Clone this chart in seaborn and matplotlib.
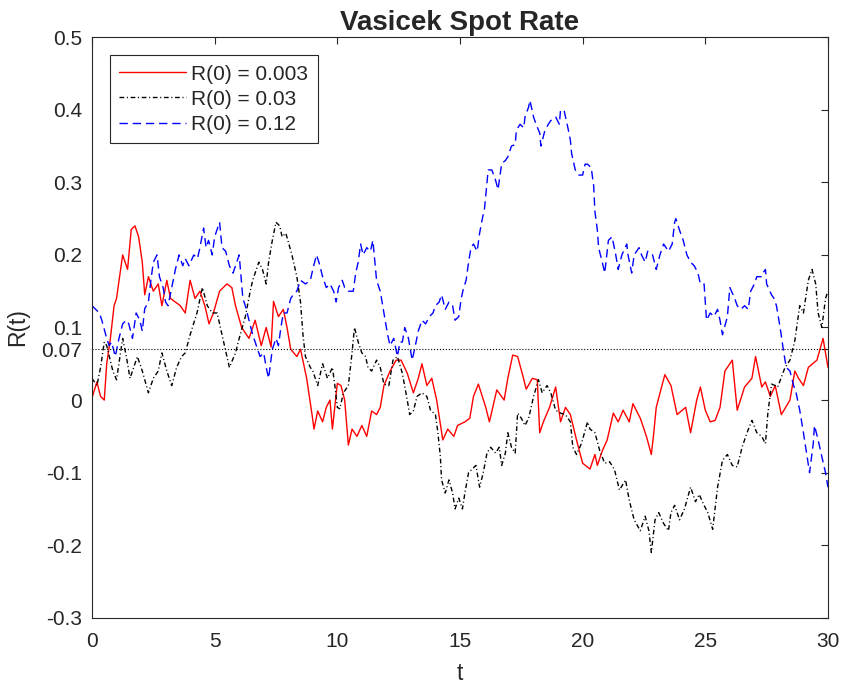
import matplotlib
matplotlib.use("Agg")
import matplotlib.pyplot as plt
import seaborn as sns
import pandas as pd

# ---------------- data ----------------
t_red = [0, 0.2, 0.35, 0.5, 0.6, 0.75, 0.9, 1.0, 1.25, 1.45, 1.6, 1.75, 1.9, 2.05, 2.15, 2.3, 2.5, 2.7,
         2.85, 3.05, 3.2, 3.4, 3.6, 3.8, 4.0, 4.2, 4.4, 4.6, 4.77, 4.95, 5.2, 5.5, 5.7, 5.85, 6.1, 6.4,
         6.65, 6.9, 7.1, 7.3, 7.4, 7.6, 7.8, 7.95, 8.1, 8.35, 8.5, 8.75, 8.97, 9.05, 9.2, 9.4, 9.55,
         9.7, 9.8, 10.0, 10.15, 10.3, 10.45, 10.6, 10.8, 11.0, 11.2, 11.4, 11.6, 11.75, 11.9, 12.15,
         12.4, 12.6, 12.85, 13.1, 13.3, 13.45, 13.65, 13.85, 14.05, 14.3, 14.5, 14.75, 14.9, 15.2,
         15.4, 15.55, 15.75, 16.05, 16.2, 16.5, 16.8, 16.95, 17.15, 17.35, 17.55, 17.7, 17.95, 18.15,
         18.25, 18.4, 18.65, 18.9, 19.1, 19.3, 19.5, 19.75, 20.0, 20.3, 20.5, 20.6, 20.8, 21.0, 21.25,
         21.45, 21.65, 21.9, 22.05, 22.35, 22.6, 22.8, 22.9, 23.0, 23.35, 23.6, 23.85, 24.2, 24.4,
         24.65, 24.8, 25.0, 25.2, 25.4, 25.6, 25.8, 26.1, 26.3, 26.6, 26.9, 27.05, 27.3, 27.45, 27.65,
         27.85, 28.1, 28.45, 28.65, 28.8, 29.0, 29.2, 29.55, 29.8, 30.0]
r_red = [0.003, 0.025, 0.005, 0.0, 0.05, 0.085, 0.13, 0.14, 0.2, 0.18, 0.235, 0.24, 0.225, 0.19, 0.145,
         0.17, 0.15, 0.16, 0.13, 0.165, 0.14, 0.135, 0.13, 0.12, 0.165, 0.14, 0.15, 0.13, 0.105, 0.12,
         0.15, 0.16, 0.155, 0.13, 0.1, 0.085, 0.11, 0.075, 0.1, 0.073, 0.136, 0.115, 0.125, 0.1, 0.07,
         0.06, 0.07, 0.03, -0.02, -0.04, -0.015, -0.03, -0.01, 0.0, -0.04, 0.023, 0.02, 0.0, -0.062,
         -0.04, -0.05, -0.035, -0.05, -0.015, -0.02, -0.01, 0.02, 0.04, 0.055, 0.055, 0.037, 0.01,
         0.03, 0.05, 0.02, 0.03, 0.0, -0.055, -0.04, -0.05, -0.035, -0.03, -0.025, 0.005, 0.022,
         -0.01, -0.03, 0.014, 0.0, 0.03, 0.062, 0.06, 0.035, 0.015, 0.03, 0.028, -0.045, -0.03, -0.01,
         0.018, -0.03, -0.01, -0.02, -0.055, -0.087, -0.095, -0.075, -0.09, -0.07, -0.055, -0.018,
         -0.03, -0.014, -0.03, -0.005, -0.025, -0.05, -0.075, -0.045, -0.01, 0.035, 0.02, -0.02,
         -0.01, -0.045, 0.0, 0.018, -0.014, -0.03, -0.028, -0.01, 0.04, 0.055, -0.014, 0.018, 0.03,
         0.06, 0.018, 0.025, 0.005, 0.02, -0.02, 0.0, 0.04, 0.03, 0.02, 0.045, 0.055, 0.085, 0.045]

t_black = [0, 0.2, 0.35, 0.5, 0.6, 0.85, 1.0, 1.25, 1.4, 1.55, 1.7, 1.85, 2.05, 2.3, 2.5, 2.7, 2.85,
           3.05, 3.25, 3.45, 3.65, 3.8, 4.0, 4.28, 4.5, 4.7, 4.9, 5.1, 5.4, 5.6, 5.85, 6.0, 6.25, 6.45,
           6.55, 6.8, 6.95, 7.1, 7.2, 7.35, 7.5, 7.65, 7.75, 7.9, 8.15, 8.35, 8.5, 8.6, 8.7, 8.9, 9.0,
           9.2, 9.4, 9.6, 9.8, 9.9, 10.0, 10.1, 10.25, 10.45, 10.6, 10.7, 10.85, 11.0, 11.15, 11.25,
           11.4, 11.6, 11.75, 11.9, 12.1, 12.27, 12.45, 12.65, 12.85, 12.95, 13.1, 13.25, 13.45, 13.65,
           13.8, 14.0, 14.1, 14.2, 14.25, 14.4, 14.55, 14.7, 14.8, 14.95, 15.1, 15.2, 15.35, 15.5,
           15.65, 15.8, 15.95, 16.1, 16.25, 16.45, 16.6, 16.7, 16.85, 16.95, 17.1, 17.25, 17.35, 17.5,
           17.65, 17.8, 18.0, 18.2, 18.35, 18.55, 18.7, 18.9, 19.1, 19.3, 19.5, 19.6, 19.75, 19.95,
           20.2, 20.3, 20.5, 20.7, 20.9, 21.1, 21.3, 21.5, 21.75, 21.9, 22.1, 22.35, 22.55, 22.7, 22.8,
           22.95, 23.1, 23.3, 23.5, 23.6, 23.75, 23.95, 24.15, 24.4, 24.6, 24.75, 24.95, 25.1, 25.3,
           25.5, 25.7, 25.9, 26.1, 26.3, 26.5, 26.7, 26.9, 27.1, 27.3, 27.45, 27.55, 27.7, 27.85,
           27.95, 28.25, 28.45, 28.65, 28.85, 29.0, 29.2, 29.35, 29.5, 29.6, 29.75, 29.9, 30.0]
r_black = [0.03, 0.02, 0.045, 0.08, 0.075, 0.04, 0.028, 0.085, 0.06, 0.03, 0.045, 0.06, 0.04, 0.01,
           0.03, 0.04, 0.065, 0.04, 0.02, 0.045, 0.06, 0.065, 0.09, 0.12, 0.155, 0.13, 0.12, 0.12,
           0.075, 0.045, 0.065, 0.085, 0.115, 0.15, 0.165, 0.19, 0.18, 0.16, 0.19, 0.22, 0.245, 0.24,
           0.225, 0.23, 0.2, 0.17, 0.135, 0.09, 0.06, 0.045, 0.04, 0.02, 0.05, 0.03, 0.045, 0.02,
           -0.01, -0.012, 0.01, 0.02, 0.065, 0.1, 0.08, 0.065, 0.06, 0.045, 0.04, 0.055, 0.045, 0.022,
           0.02, 0.055, 0.06, 0.037, 0.0, -0.02, -0.015, 0.005, 0.01, 0.005, -0.014, -0.02, -0.045,
           -0.078, -0.11, -0.128, -0.11, -0.128, -0.15, -0.135, -0.15, -0.128, -0.1, -0.095, -0.09,
           -0.12, -0.1, -0.073, -0.065, -0.073, -0.065, -0.09, -0.073, -0.045, -0.065, -0.073, -0.018,
           -0.025, -0.035, -0.025, 0.005, 0.028, 0.01, 0.02, 0.01, -0.014, -0.018, -0.02, -0.03,
           -0.065, -0.075, -0.06, -0.03, -0.04, -0.045, -0.07, -0.087, -0.085, -0.096, -0.124, -0.11,
           -0.138, -0.165, -0.18, -0.16, -0.18, -0.21, -0.165, -0.155, -0.17, -0.18, -0.155, -0.145,
           -0.165, -0.15, -0.12, -0.14, -0.13, -0.145, -0.155, -0.178, -0.12, -0.083, -0.075, -0.09,
           -0.092, -0.065, -0.045, -0.028, -0.045, -0.05, -0.06, -0.018, 0.022, 0.02, 0.018, 0.045,
           0.055, 0.082, 0.13, 0.12, 0.165, 0.18, 0.16, 0.12, 0.1, 0.14, 0.15]

t_blue = [0, 0.15, 0.3, 0.4, 0.6, 0.7, 0.8, 0.95, 1.1, 1.25, 1.4, 1.5, 1.65, 1.8, 1.95, 2.05, 2.15,
          2.3, 2.4, 2.5, 2.65, 2.75, 2.9, 3.0, 3.1, 3.25, 3.4, 3.55, 3.7, 3.8, 3.95, 4.15, 4.3, 4.4,
          4.55, 4.65, 4.75, 4.9, 5.0, 5.2, 5.3, 5.45, 5.6, 5.75, 5.9, 6.0, 6.15, 6.25, 6.4, 6.55, 6.75,
          6.85, 7.0, 7.1, 7.2, 7.35, 7.5, 7.6, 7.7, 7.8, 7.95, 8.1, 8.2, 8.35, 8.5, 8.7, 8.9, 9.0,
          9.15, 9.25, 9.4, 9.55, 9.7, 9.85, 9.95, 10.05, 10.2, 10.3, 10.45, 10.65, 10.75, 10.85,
          10.95, 11.05, 11.2, 11.35, 11.45, 11.6, 11.75, 11.9, 12.05, 12.15, 12.3, 12.45, 12.55,
          12.65, 12.75, 12.9, 13.05, 13.15, 13.3, 13.45, 13.6, 13.75, 13.9, 14.0, 14.15, 14.25, 14.4,
          14.55, 14.7, 14.8, 14.95, 15.05, 15.15, 15.25, 15.35, 15.45, 15.55, 15.7, 15.8, 15.9, 16.0,
          16.15, 16.3, 16.45, 16.55, 16.7, 16.85, 16.95, 17.1, 17.25, 17.3, 17.45, 17.6, 17.65, 17.8,
          17.85, 18.0, 18.1, 18.25, 18.3, 18.45, 18.6, 18.7, 18.9, 19.05, 19.1, 19.25, 19.4, 19.5,
          19.55, 19.7, 19.85, 20.0, 20.1, 20.2, 20.35, 20.45, 20.5, 20.6, 20.65, 20.8, 20.9, 21.05,
          21.2, 21.35, 21.45, 21.6, 21.8, 21.85, 22.0, 22.1, 22.3, 22.4, 22.55, 22.65, 22.85, 23.0,
          23.15, 23.3, 23.5, 23.65, 23.75, 23.8, 23.95, 24.1, 24.25, 24.4, 24.55, 24.7, 24.8, 24.95,
          25.05, 25.2, 25.35, 25.5, 25.6, 25.7, 25.9, 26.0, 26.2, 26.3, 26.45, 26.6, 26.75, 26.85,
          27.0, 27.1, 27.3, 27.35, 27.45, 27.5, 27.7, 27.8, 27.9, 28.05, 28.2, 28.3, 28.45, 28.6,
          28.7, 28.85, 29.0, 29.15, 29.25, 29.4, 29.45, 29.6, 29.75, 29.9, 30.0]
r_blue = [0.13, 0.125, 0.12, 0.11, 0.085, 0.075, 0.08, 0.06, 0.085, 0.105, 0.11, 0.105, 0.085, 0.12,
          0.11, 0.095, 0.126, 0.135, 0.165, 0.19, 0.2, 0.17, 0.155, 0.135, 0.13, 0.155, 0.18, 0.2,
          0.185, 0.195, 0.185, 0.2, 0.195, 0.21, 0.237, 0.21, 0.22, 0.2, 0.225, 0.245, 0.21, 0.205,
          0.185, 0.175, 0.19, 0.2, 0.14, 0.13, 0.11, 0.09, 0.07, 0.06, 0.065, 0.045, 0.03, 0.07,
          0.085, 0.075, 0.1, 0.12, 0.12, 0.14, 0.145, 0.15, 0.165, 0.16, 0.165, 0.18, 0.2, 0.19,
          0.17, 0.155, 0.16, 0.15, 0.135, 0.155, 0.165, 0.155, 0.15, 0.15, 0.175, 0.19, 0.215, 0.2,
          0.21, 0.205, 0.22, 0.165, 0.15, 0.12, 0.09, 0.075, 0.085, 0.06, 0.08, 0.08, 0.1, 0.085,
          0.055, 0.07, 0.095, 0.11, 0.105, 0.115, 0.12, 0.13, 0.135, 0.145, 0.125, 0.135, 0.13, 0.11,
          0.115, 0.14, 0.155, 0.165, 0.19, 0.21, 0.215, 0.205, 0.23, 0.248, 0.264, 0.317, 0.317,
          0.303, 0.29, 0.326, 0.33, 0.335, 0.35, 0.352, 0.372, 0.38, 0.375, 0.39, 0.404, 0.413, 0.39,
          0.38, 0.368, 0.35, 0.37, 0.38, 0.385, 0.39, 0.38, 0.4, 0.398, 0.375, 0.358, 0.34, 0.317,
          0.31, 0.31, 0.325, 0.325, 0.32, 0.295, 0.26, 0.234, 0.21, 0.19, 0.175, 0.22, 0.225, 0.2,
          0.18, 0.2, 0.215, 0.2, 0.175, 0.2, 0.21, 0.2, 0.19, 0.205, 0.2, 0.18, 0.2, 0.215, 0.205,
          0.215, 0.245, 0.25, 0.234, 0.22, 0.2, 0.19, 0.185, 0.175, 0.16, 0.16, 0.11, 0.12, 0.115,
          0.125, 0.11, 0.09, 0.115, 0.155, 0.14, 0.13, 0.125, 0.13, 0.125, 0.15, 0.16, 0.17, 0.17,
          0.175, 0.18, 0.16, 0.145, 0.14, 0.13, 0.1, 0.065, 0.045, 0.04, 0.02, 0.01, -0.014, -0.045,
          -0.078, -0.1, -0.06, -0.035, -0.055, -0.078, -0.1, -0.12]

series_labels = ["R(0) = 0.003", "R(0) = 0.03", "R(0) = 0.12"]
long_run_mean = 0.07
x_ticks = [0, 5, 10, 15, 20, 25, 30]
y_ticks = [-0.3, -0.2, -0.1, 0, 0.07, 0.1, 0.2, 0.3, 0.4, 0.5]
y_tick_labels = ["-0.3", "-0.2", "-0.1", "0", "0.07", "0.1", "0.2", "0.3", "0.4", "0.5"]

# ---------------- styling ----------------
sns.set_style("white")
plt.rcParams["font.family"] = ["Liberation Sans", "DejaVu Sans"]

fig = plt.figure(figsize=(8.44, 6.88), dpi=100)
ax = fig.add_axes([0.109, 0.102, 0.872, 0.844])

df_red = pd.DataFrame({"t": t_red, "R": r_red})
df_black = pd.DataFrame({"t": t_black, "R": r_black})
df_blue = pd.DataFrame({"t": t_blue, "R": r_blue})

sns.lineplot(data=df_red, x="t", y="R", ax=ax, color="#ff0000", lw=1.0,
             label=series_labels[0], estimator=None, sort=False)
sns.lineplot(data=df_black, x="t", y="R", ax=ax, color="black", lw=1.0,
             label=series_labels[1], estimator=None, sort=False)
sns.lineplot(data=df_blue, x="t", y="R", ax=ax, color="#0000ff", lw=1.0,
             label=series_labels[2], estimator=None, sort=False)
lines = ax.get_lines()
lines[1].set_dashes((3.4, 1.9, 0.8, 1.9))
lines[2].set_dashes((6.0, 3.5))

ax.axhline(long_run_mean, color="black", lw=0.8, linestyle=":")

ax.set_xlim(0, 30)
ax.set_ylim(-0.3, 0.5)
ax.set_xticks(x_ticks)
ax.set_xticklabels([str(v) for v in x_ticks])
ax.set_yticks(y_ticks)
ax.set_yticklabels(y_tick_labels)
ax.tick_params(direction="in", top=True, right=True, length=5, width=0.8,
               labelsize=15, colors="#262626")
ax.tick_params(axis="x", pad=10)
ax.tick_params(axis="y", pad=7)
for s in ax.spines.values():
    s.set_color("#262626")
    s.set_linewidth(0.8)

ax.set_xlabel("t", fontsize=16.5, color="#262626", labelpad=8)
ax.set_ylabel("R(t)", fontsize=16.5, color="#262626", labelpad=9)
ax.set_title("Vasicek Spot Rate", fontsize=20, fontweight="bold", pad=5)

leg = ax.legend(loc="upper left", bbox_to_anchor=(0.0245, 0.969), borderaxespad=0,
                fontsize=15, frameon=True, fancybox=False, edgecolor="#262626",
                framealpha=1, handlelength=3.2, handletextpad=0.25, borderpad=0.45,
                labelspacing=0.3)
leg.get_frame().set_linewidth(0.8)

fig.savefig("out.png", dpi=100)
